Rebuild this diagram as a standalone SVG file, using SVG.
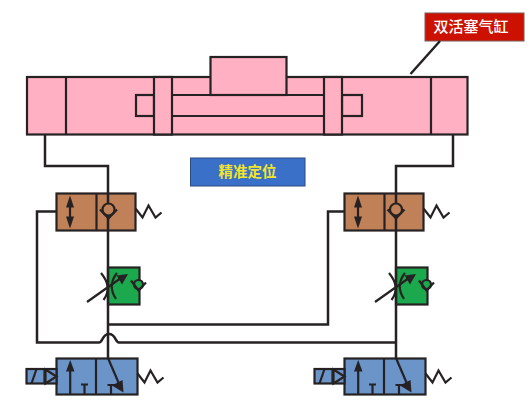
<svg xmlns="http://www.w3.org/2000/svg" width="530" height="407" viewBox="0 0 530 407">
<style>
text{font-family:"Noto Sans CJK SC","Liberation Sans",sans-serif;text-anchor:middle}
.l{fill:none;stroke:#262223;stroke-width:2.5}
.t{fill:none;stroke:#262223;stroke-width:2.2}
.pk{fill:#ffb0c3;stroke:#262223;stroke-width:2.2}
.br{fill:#c08158;stroke:#262223;stroke-width:2.2}
.gr{fill:#1ca84c;stroke:#262223;stroke-width:2.2}
.bl{fill:#6b94c9;stroke:#262223;stroke-width:2.2}
.hd{fill:#262223}
</style>
<defs>
<g id="spring"><path class="t" d="M0 0L7 9L13-3L20 9L26 4"/></g>
<g id="check5"><circle class="br" cx="0" cy="0" r="6"/><path class="t" d="M-8.500 0L0 9L8.500 0"/></g>
<g id="bv">
<rect class="br" x="0" y="0" width="79" height="37"/>
<path class="t" d="M40 0V37"/>
<path class="t" d="M13.500 6V31"/>
<path class="hd" d="M13.500 2L17.500 14H9.500ZM13.500 35L17.500 23H9.500Z"/>
<use href="#spring" x="79" y="15"/>
</g>
<g id="gv">
<rect class="gr" x="0" y="0" width="31.500" height="37"/>
<circle class="gr" cx="30.500" cy="17" r="4.500"/>
<path class="t" d="M23 13L30.500 23L38 15"/>
<path class="t" d="M-21 34.500L15 9"/>
<path class="hd" d="M20 6.500L8.500 8L14 17Z"/>
<path class="t" d="M-7 5.500Q5 20-4.500 32.500M9 5.500Q-1 18 8 31.500"/>
</g>
<g id="sv">
<rect class="bl" x="0" y="0" width="81" height="36"/>
<path class="t" d="M39.500 0V36"/>
<path class="t" d="M13.700 36V8"/>
<path class="hd" d="M13.700 1.500L18 13H9.500Z"/>
<path class="t" d="M24.500 26H31.500M28 26V36"/>
<path class="t" d="M51 26.500H58.500M54.500 26.500V36"/>
<path class="t" d="M51.700 0L65 31"/>
<path class="hd" d="M67 34L55.500 27L66 21.500Z"/>
<rect class="bl" x="-30" y="10.500" width="30" height="14.500"/>
<path class="t" d="M-12 10.500V25M-25 25L-20 10.500M-11 11L0 18L-11 25Z"/>
<use href="#spring" x="81" y="15"/>
</g>
</defs>
<g id="label-position">
<rect x="190.500" y="158" width="114.500" height="28" fill="#3a70c8" stroke="#2a4a80" stroke-width="1"/>
<text x="247.500" y="177" font-size="14.500" font-weight="700" fill="#f2e62a">精准定位</text>
</g>
<g id="cylinder">
<rect class="pk" x="27" y="77" width="440.500" height="57.500"/>
<path class="t" d="M66 77V134.500M431 77V134.500"/>
<rect class="pk" x="210.500" y="57" width="76" height="38"/>
<rect class="pk" x="136" y="95" width="18" height="21"/>
<rect class="pk" x="342" y="95" width="20" height="21"/>
<rect class="pk" x="154" y="77" width="18" height="57.500"/>
<rect class="pk" x="324" y="77" width="18" height="57.500"/>
<path class="t" d="M172 95H324M172 116H324"/>
</g>
<g id="label-cylinder">
<rect x="425" y="13" width="99" height="28" fill="#cc1100" stroke="#7a5a5a" stroke-width="1"/>
<text x="471" y="32" font-size="15" font-weight="500" fill="#fff">双活塞气缸</text>
</g>
<g id="pilot-left"><use href="#bv" x="56.500" y="193.500"/></g>
<g id="pilot-right"><use href="#bv" x="344.500" y="193.500"/></g>
<g id="throttle-left"><use href="#gv" x="108" y="267.500"/></g>
<g id="throttle-right"><use href="#gv" x="396" y="267.500"/></g>
<g id="solenoid-left"><use href="#sv" x="56.500" y="358.500"/></g>
<g id="solenoid-right"><use href="#sv" x="344.500" y="358.500"/></g>
<g id="connectors">
<path class="l" d="M45 134V166H108V358"/>
<path class="l" d="M453 134V166H396V358"/>
<path class="l" d="M56 211.500H37V342.500H99C103 342.500 102 334 109 334S115 342.500 119 342.500H396"/>
<path class="l" d="M108 324.500H328V211.500H345"/>
<path class="l" d="M410.500 74L440 41"/>
</g>
<g id="checks"><use href="#check5" x="108.500" y="209.500"/><use href="#check5" x="396" y="209.500"/></g>
</svg>
